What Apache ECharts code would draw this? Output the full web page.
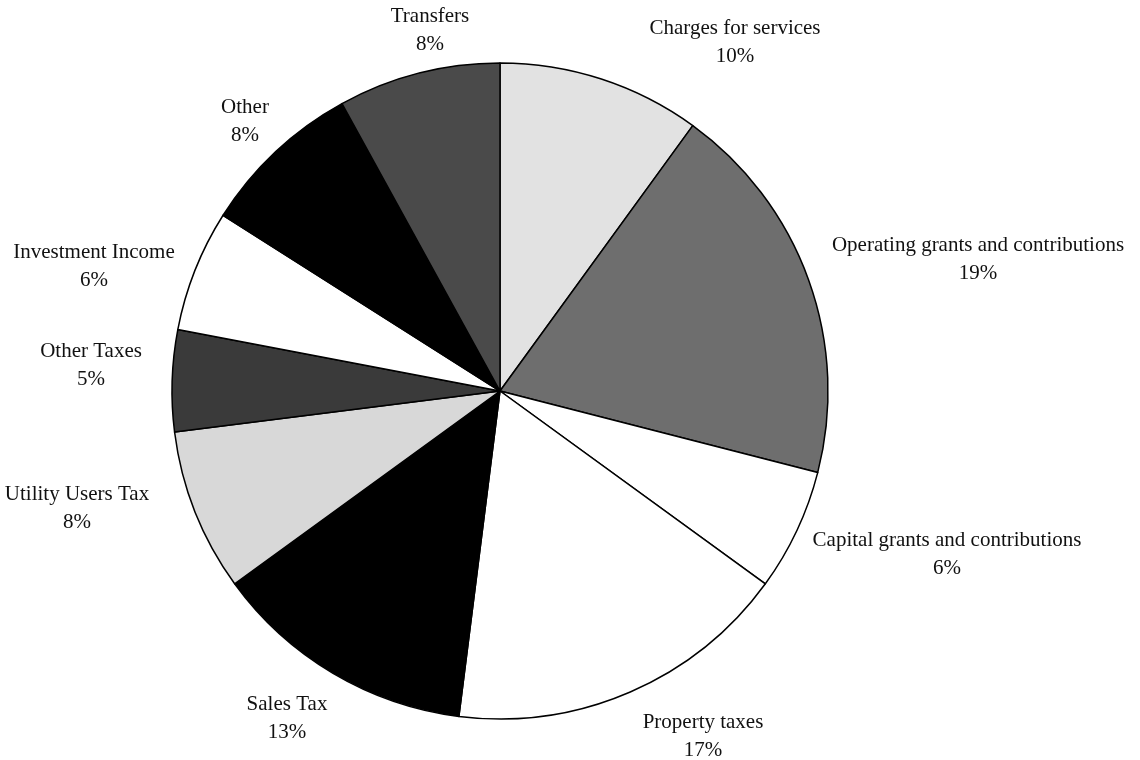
<!DOCTYPE html>
<html><head><meta charset="utf-8">
<script src="https://cdn.jsdelivr.net/npm/echarts@6/dist/echarts.min.js"></script>
<style>html,body{margin:0;padding:0;background:#fff}#c{width:1140px;height:760px}</style>
</head><body><div id="c"></div>
<script>
const categories = ["Charges for services","Operating grants and contributions","Capital grants and contributions","Property taxes","Sales Tax","Utility Users Tax","Other Taxes","Investment Income","Other","Transfers"];
const values = [10,19,6,17,13,8,5,6,8,8];
const colors = ["#e2e2e2","#6e6e6e","#ffffff","#ffffff","#000000","#d8d8d8","#3a3a3a","#ffffff","#000000","#4a4a4a"];
const labelPos = {
  "Charges for services":[735,42],
  "Operating grants and contributions":[978,259],
  "Capital grants and contributions":[947,554],
  "Property taxes":[703,736],
  "Sales Tax":[287,718],
  "Utility Users Tax":[77,508],
  "Other Taxes":[91,365],
  "Investment Income":[94,266],
  "Other":[245,121],
  "Transfers":[430,30]
};
const chart = echarts.init(document.getElementById('c'));
chart.setOption({
  animation:false,
  series:[{
    type:'pie',
    center:[500,391],
    radius:[0,328],
    startAngle:90,
    clockwise:true,
    data:categories.map((n,i)=>({name:n,value:values[i],itemStyle:{color:colors[i]}})),
    itemStyle:{borderColor:'#000',borderWidth:1.5},
    label:{show:true,position:'outside',formatter:p=>p.name+'\n'+p.value+'%',
      fontFamily:'Liberation Serif',fontSize:21,color:'#111',lineHeight:28,align:'center',
      overflow:'none',width:400},
    labelLine:{show:false},
    labelLayout:function(params){
      const p = labelPos[categories[params.dataIndex]];
      return {x:p[0],y:p[1],align:'center',verticalAlign:'middle',hideOverlap:false,moveOverlap:false};
    }
  }]
});
</script></body></html>
